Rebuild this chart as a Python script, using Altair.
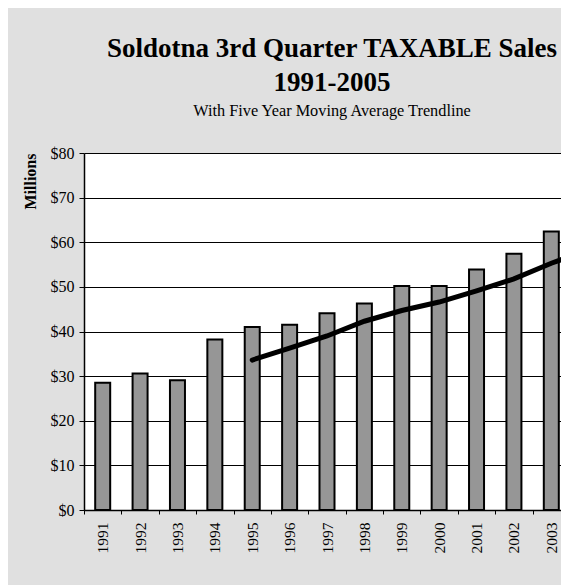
import altair as alt
import pandas as pd

# ---- data ----
years = [1991, 1992, 1993, 1994, 1995, 1996, 1997, 1998, 1999, 2000, 2001, 2002, 2003]
sales = [28.5, 30.6, 29.1, 38.2, 41.0, 41.5, 44.1, 46.3, 50.2, 50.2, 53.9, 57.4, 62.4]

trend_years = [1995, 1996, 1997, 1998, 1999, 2000, 2001, 2002, 2003, 2004]
trend_values = [33.6, 36.3, 39.0, 42.3, 44.7, 46.6, 49.1, 51.8, 55.3, 58.3]

y_ticks = [0, 10, 20, 30, 40, 50, 60, 70, 80]

title_lines = ["Soldotna 3rd Quarter TAXABLE Sales", "1991-2005"]
subtitle_text = "With Five Year Moving Average Trendline"

bars_df = pd.DataFrame({"Year": years, "Sales": sales})
trend_df = pd.DataFrame({"Year": trend_years, "MA": trend_values})

serif = "Liberation Serif"
y_scale = alt.Scale(domain=[0, 80], nice=False)

bars = alt.Chart(bars_df).mark_bar(
    width=15, fill="#969696", stroke="black", strokeWidth=2
).encode(
    x=alt.X(
        "Year:O",
        scale=alt.Scale(paddingInner=0, paddingOuter=0),
        axis=alt.Axis(
            title=None, labelAngle=-90, tickBand="extent", tickSize=4,
            labelPadding=8, labelFont=serif, labelFontSize=15.5, labelColor="black",
            domainColor="black", domainWidth=1.5, tickColor="black", grid=False,
        ),
    ),
    y=alt.Y(
        "Sales:Q",
        scale=y_scale,
        axis=alt.Axis(
            title="Millions", titleFont=serif, titleFontSize=16, titleFontWeight="bold",
            titleColor="black", titleAnchor="end", titlePadding=12,
            values=y_ticks, format="$d", labelFont=serif, labelFontSize=16,
            labelColor="black", tickSize=5, tickColor="black", labelPadding=5,
            domainColor="black", domainWidth=1.5, grid=True, gridColor="black",
            gridWidth=1,
        ),
    ),
)

line = alt.Chart(trend_df).mark_line(
    color="black", strokeWidth=5, strokeCap="round", clip=True
).encode(
    x=alt.X("Year:Q", scale=alt.Scale(domain=[1990.5, 2003.5], nice=False, zero=False), axis=None),
    y=alt.Y("MA:Q", scale=y_scale, title="Millions"),
)

chart = (
    alt.layer(bars, line)
    .resolve_scale(x="independent")
    .properties(
        width=486,
        height=357,
        title=alt.TitleParams(
            text=title_lines,
            subtitle=subtitle_text,
            font=serif, fontSize=27, fontWeight="bold", lineHeight=34, color="black",
            subtitleFont=serif, subtitleFontSize=16.3, subtitleColor="black",
            subtitlePadding=6, anchor="middle", frame="group", offset=25, dx=5,
        ),
        background="#e0e0e0",
        padding={"left": 76, "top": 145, "right": -9, "bottom": 75},
        autosize=alt.AutoSizeParams(type="none"),
    )
    .configure_view(fill="white", stroke=None)
)

chart.save("out.html", embed_options={"renderer": "svg", "actions": False})
